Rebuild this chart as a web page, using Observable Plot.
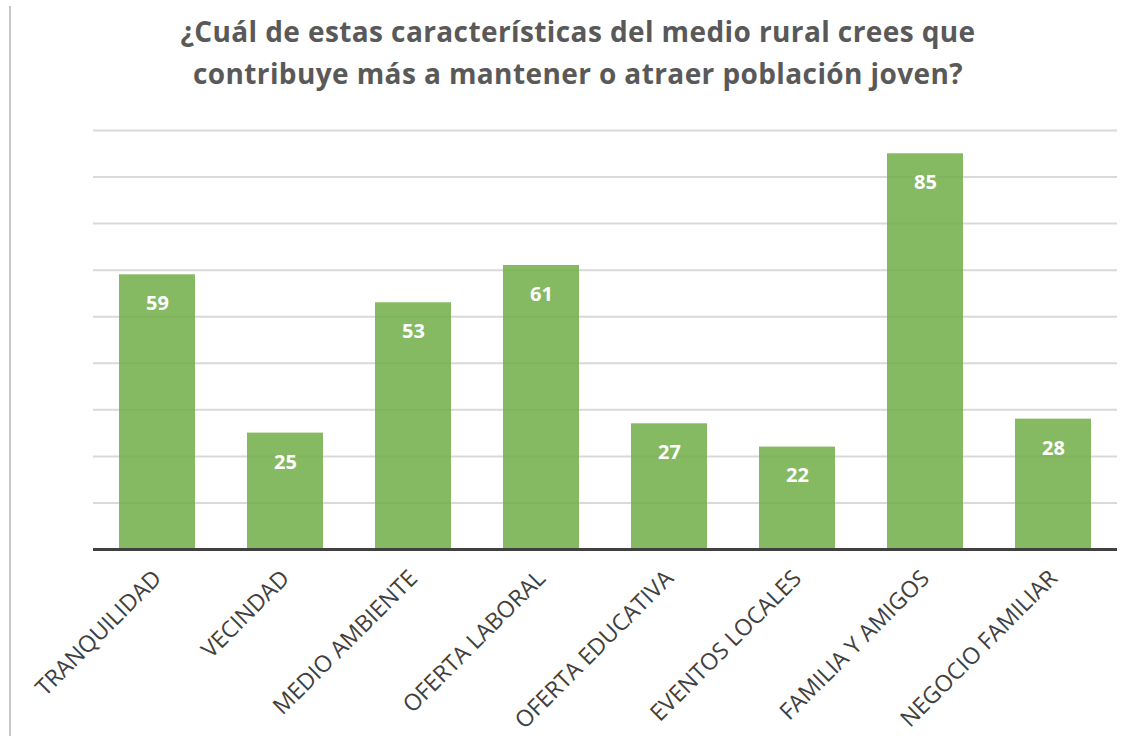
<!DOCTYPE html>
<html>
<head>
<meta charset="utf-8">
<script src="https://cdn.jsdelivr.net/npm/d3@7"></script>
<script src="https://cdn.jsdelivr.net/npm/@observablehq/plot@0.6"></script>
<style>
  html, body { margin: 0; padding: 0; background: #fff; }
  #wrap { position: relative; width: 1142px; height: 736px; overflow: hidden; }
  #border { position: absolute; left: 9px; top: 6px; width: 2px; height: 730px; background: #c8c8c8; }
  #title { position: absolute; left: 0; top: 10px; width: 1156px; text-align: center;
           font-family: "Open Sans", sans-serif; font-weight: bold; font-size: 28px;
           letter-spacing: 0.4px; line-height: 42px; color: #595959; }
  #chart { position: absolute; left: 0; top: 110px; }
</style>
</head>
<body>
<div id="wrap">
  <div id="border"></div>
  <div id="title">¿Cuál de estas características del medio rural crees que<br>contribuye más a mantener o atraer población joven?</div>
  <div id="chart"></div>
</div>
<script>
const categories = ["TRANQUILIDAD", "VECINDAD", "MEDIO AMBIENTE", "OFERTA LABORAL", "OFERTA EDUCATIVA", "EVENTOS LOCALES", "FAMILIA Y AMIGOS", "NEGOCIO FAMILIAR"];
const values = [59, 25, 53, 61, 27, 22, 85, 28];
const gridTicks = [10, 20, 30, 40, 50, 60, 70, 80, 90];

const data = categories.map((c, i) => ({category: c, value: values[i]}));

const chart = Plot.plot({
  width: 1142,
  height: 626,
  marginTop: 20,
  marginBottom: 187,
  marginLeft: 93,
  marginRight: 25,
  style: {fontFamily: "'Open Sans', sans-serif", background: "transparent"},
  x: {domain: categories, paddingInner: 0.406, paddingOuter: 0.203, label: null},
  y: {domain: [0, 90], label: null, axis: null},
  marks: [
    Plot.ruleY(gridTicks, {stroke: "#d9d9d9", strokeWidth: 2}),
    Plot.barY(data, {x: "category", y: "value", fill: "#70ad47", fillOpacity: 0.85}),
    Plot.text(data, {x: "category", y: "value", text: d => String(d.value), dy: 29,
      fill: "white", fontWeight: "bold", fontSize: 20}),
    Plot.ruleY([0], {stroke: "#404040", strokeWidth: 3}),
    Plot.axisX({tickSize: 0, tickRotate: -45, tickPadding: 25, fontSize: 23, fill: "#404040", label: null})
  ]
});
document.getElementById("chart").appendChild(chart);
</script>
</body>
</html>
